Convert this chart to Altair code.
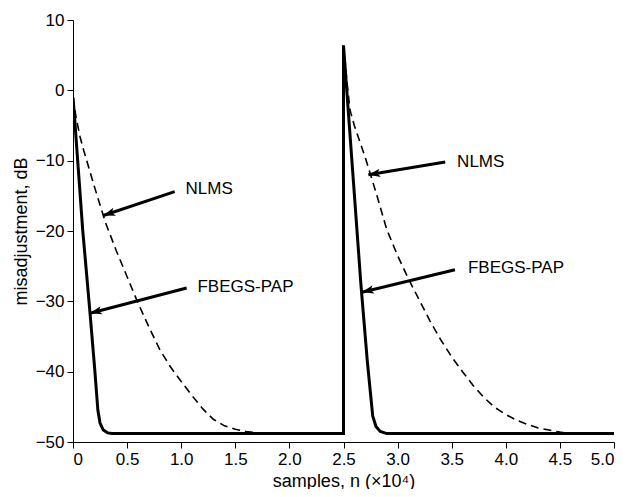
import math
import altair as alt
import pandas as pd

# ---- data (x in units of 1e4 samples, y in dB) ----
nlms_x = [0, 0.03, 0.065, 0.1, 0.2, 0.3, 0.4, 0.5, 0.6, 0.7, 0.8, 0.9, 1.0, 1.1, 1.2, 1.3,
          1.4, 1.5, 1.6, 1.7, 1.8, 2.0, 2.505,
          2.505, 2.53, 2.56, 2.6, 2.7, 2.8, 2.9, 3.0, 3.1, 3.2, 3.3, 3.4, 3.5, 3.6, 3.7, 3.8,
          3.9, 4.0, 4.1, 4.2, 4.3, 4.4, 4.5, 4.6, 4.8, 5.0]
nlms_y = [-1, -4, -6.6, -8.6, -13.8, -18.8, -22.8, -26.5, -30.2, -33.6, -36.8, -39.3, -41.4,
          -43.4, -45.3, -46.8, -47.7, -48.2, -48.5, -48.7, -48.8, -48.9, -48.9,
          6.0, 1.5, -2.8, -5.0, -9.5, -14.5, -19.8, -23.5, -26.8, -29.8, -32.8, -35.5, -37.9,
          -40.0, -42.0, -43.7, -45.1, -46.1, -46.9, -47.5, -48.0, -48.3, -48.6, -48.8, -48.9, -48.9]

fbegs_x = [0, 0.015, 0.09, 0.157, 0.2, 0.23, 0.25, 0.28, 0.32, 0.36, 2.5,
           2.5, 2.66, 2.72, 2.77, 2.8, 2.84, 2.9, 5.0]
fbegs_y = [-1, -4, -19.9, -31.6, -39.5, -45.5, -47.3, -48.3, -48.7, -48.8, -48.8,
           6.4, -27.4, -38.5, -46.3, -47.8, -48.5, -48.8, -48.8]

arrow_label = ["NLMS", "FBEGS-PAP", "NLMS", "FBEGS-PAP"]
arrow_tail_x = [0.94, 1.05, 3.44, 3.53]
arrow_tail_y = [-14.4, -28.1, -10.2, -25.5]
arrow_tip_x = [0.28, 0.157, 2.73, 2.67]
arrow_tip_y = [-17.8, -31.7, -12.0, -28.7]
label_x = [1.04, 1.15, 3.55, 3.65]
label_y = [-14.0, -28.0, -10.2, -25.3]

W, H = 541, 422
X_DOM, Y_DOM = [0, 5], [-50, 10]
SX = W / (X_DOM[1] - X_DOM[0])
SY = H / (Y_DOM[1] - Y_DOM[0])

curves = pd.concat([
    pd.DataFrame({"x": nlms_x, "y": nlms_y, "i": range(len(nlms_x)), "s": "NLMS"}),
    pd.DataFrame({"x": fbegs_x, "y": fbegs_y, "i": range(len(fbegs_x)), "s": "FBEGS-PAP"}),
])

angles = []
for tx, ty, hx, hy in zip(arrow_tail_x, arrow_tail_y, arrow_tip_x, arrow_tip_y):
    dx = (hx - tx) * SX
    dy = -(hy - ty) * SY
    angles.append(math.degrees(math.atan2(dx, -dy)) % 360)

arrows = pd.DataFrame({
    "label": arrow_label, "tx": arrow_tail_x, "ty": arrow_tail_y,
    "hx": arrow_tip_x, "hy": arrow_tip_y, "lx": label_x, "ly": label_y, "ang": angles,
})

FONT = "Liberation Sans"

xs = alt.Scale(domain=X_DOM, nice=False, zero=False)
ys = alt.Scale(domain=Y_DOM, nice=False, zero=False)

x_axis = alt.Axis(values=[0, 0.5, 1, 1.5, 2, 2.5, 3, 3.5, 4, 4.5, 5],
                  labelExpr="datum.value == 0 ? '0' : format(datum.value, '.1f')",
                  title="samples, n (×10⁴)", grid=False)
y_axis = alt.Axis(values=[-50, -40, -30, -20, -10, 0, 10], title="misadjustment, dB", grid=False)

base = alt.Chart(curves)

nlms = base.transform_filter(alt.datum.s == "NLMS").mark_line(
    color="black", strokeWidth=1.6, strokeDash=[8, 5], clip=True
).encode(x=alt.X("x:Q", scale=xs, axis=x_axis), y=alt.Y("y:Q", scale=ys, axis=y_axis),
         order="i:Q")

fbegs = base.transform_filter(alt.datum.s == "FBEGS-PAP").mark_line(
    color="black", strokeWidth=3, clip=True
).encode(x=alt.X("x:Q", scale=xs), y=alt.Y("y:Q", scale=ys), order="i:Q")

ab = alt.Chart(arrows)
shaft = ab.mark_rule(color="black", strokeWidth=3).encode(
    x=alt.X("tx:Q", scale=xs), y=alt.Y("ty:Q", scale=ys),
    x2="hx:Q", y2="hy:Q")
head = ab.mark_point(
    shape="M0,0L1.2,3.4L0,2.6L-1.2,3.4Z", filled=True, color="black", opacity=1, size=49
).encode(x=alt.X("hx:Q", scale=xs), y=alt.Y("hy:Q", scale=ys), angle=alt.Angle("ang:Q", scale=None))
text = ab.mark_text(align="left", baseline="middle", fontSize=17, font=FONT, color="black").encode(
    x=alt.X("lx:Q", scale=xs), y=alt.Y("ly:Q", scale=ys), text="label:N")

chart = alt.layer(nlms, fbegs, shaft, head, text).properties(
    width=W, height=H,
    autosize=alt.AutoSizeParams(type="none"),
    padding={"left": 65, "top": 12, "right": 16, "bottom": 47},
).configure_view(stroke=None).configure_axis(
    domainColor="black", tickColor="black", labelColor="black", titleColor="black",
    labelFont=FONT, titleFont=FONT, labelFontSize=17, titleFontSize=18,
    titleFontWeight="normal", tickSize=6, labelPadding=3, domainWidth=1, tickWidth=1,
).configure_axisX(titlePadding=5).configure_axisY(titlePadding=5)

chart.save("out.html", embed_options={"renderer": "svg", "actions": False})
